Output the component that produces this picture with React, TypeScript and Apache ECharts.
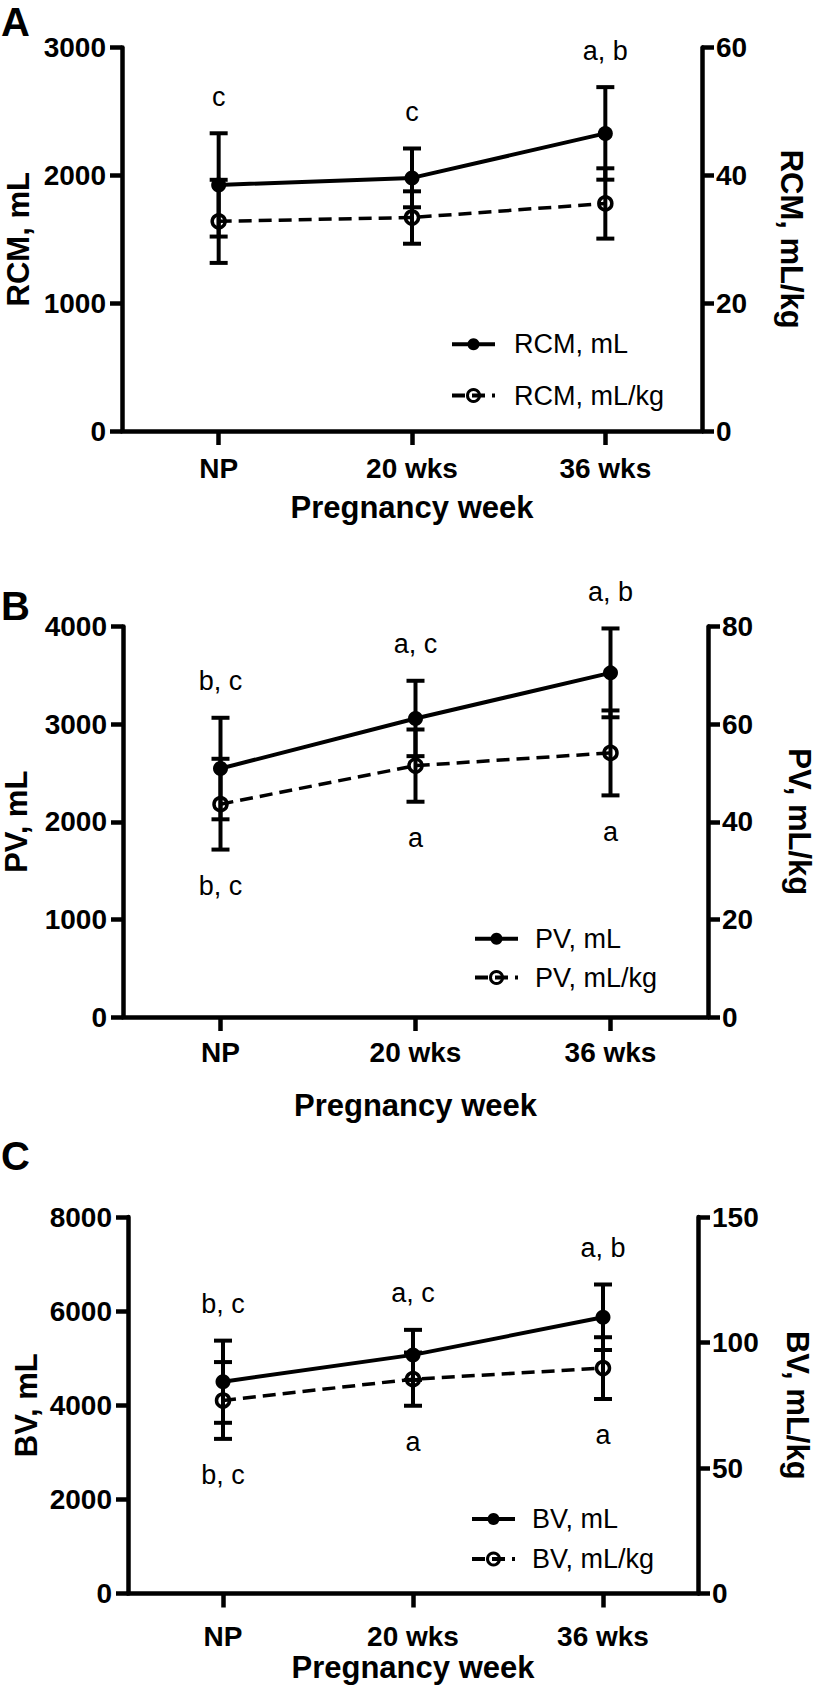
import React, { useEffect, useRef } from 'react';
import * as echarts from 'echarts';

// ---------- DATA ----------
const categories = ['NP', '20 wks', '36 wks'];

// Panel A – red cell mass
const rcmMl = [1925, 1980, 2328];
const rcmMlSd = [404, 230, 362];
const rcmKg = [32.8, 33.4, 35.6];
const rcmKgSd = [6.5, 4.1, 5.5];
const rcmAbove = ['c', 'c', 'a, b'];
const rcmBelow = ['', '', ''];

// Panel B – plasma volume
const pvMl = [2545, 3058, 3525];
const pvMlSd = [520, 386, 455];
const pvKg = [43.6, 51.5, 54.1];
const pvKgSd = [9.3, 7.4, 8.7];
const pvAbove = ['b, c', 'a, c', 'a, b'];
const pvBelow = ['b, c', 'a', 'a'];

// Panel C – blood volume
const bvMl = [4500, 5070, 5870];
const bvMlSd = [873, 532, 696];
const bvKg = [76.9, 85.4, 89.8];
const bvKgSd = [15.3, 10.6, 12.3];
const bvAbove = ['b, c', 'a, c', 'a, b'];
const bvBelow = ['b, c', 'a', 'a'];

// axis ticks
const leftMax = [3000, 4000, 8000];
const leftStep = [1000, 1000, 2000];
const rightMax = [60, 80, 150];
const rightStep = [20, 20, 50];

const panelLetters = ['A', 'B', 'C'];
const mlNames = ['RCM, mL', 'PV, mL', 'BV, mL'];
const kgNames = ['RCM, mL/kg', 'PV, mL/kg', 'BV, mL/kg'];
const xTitle = 'Pregnancy week';

const panels = [
  { ml: rcmMl, mlSd: rcmMlSd, kg: rcmKg, kgSd: rcmKgSd, above: rcmAbove, below: rcmBelow },
  { ml: pvMl, mlSd: pvMlSd, kg: pvKg, kgSd: pvKgSd, above: pvAbove, below: pvBelow },
  { ml: bvMl, mlSd: bvMlSd, kg: bvKg, kgSd: bvKgSd, above: bvAbove, below: bvBelow },
];

// ---------- LAYOUT ----------
const W = 815;
const H = 1686;
const FONT = '"Liberation Sans", Arial, Helvetica, sans-serif';

const layout = [
  { left: 122, top: 47.5, width: 580, height: 383.5, lGap: 88, rGap: 73.5, xMargin: 23, xGap: 60.5, legLeft: 450, legTop: 330.8, legGap: 24.2, legPad: 14, letterY: 2 },
  { left: 123, top: 626.5, width: 585, height: 390.5, lGap: 91, rGap: 75.5, xMargin: 21, xGap: 72.5, legLeft: 473, legTop: 925.2, legGap: 11.8, legPad: 12, letterY: 586 },
  { left: 128, top: 1217, width: 570, height: 376.5, lGap: 86.5, rGap: 83.5, xMargin: 29, xGap: 58, legLeft: 470, legTop: 1505.5, legGap: 13, legPad: 12, letterY: 1136 },
];

const AXIS_W = 4.5;

function errorBarRender(params: any, api: any) {
  const x = api.value(0);
  const lo = api.coord([x, api.value(1)]);
  const hi = api.coord([x, api.value(2)]);
  const half = 9;
  const style = { stroke: '#000', lineWidth: 4, fill: 'none' };
  return {
    type: 'group',
    children: [
      { type: 'line', shape: { x1: hi[0], y1: hi[1], x2: lo[0], y2: lo[1] }, style },
      { type: 'line', shape: { x1: hi[0] - half, y1: hi[1], x2: hi[0] + half, y2: hi[1] }, style },
      { type: 'line', shape: { x1: lo[0] - half, y1: lo[1], x2: lo[0] + half, y2: lo[1] }, style },
    ],
  };
}

function letterRender(texts: string[]) {
  return (params: any, api: any) => {
    const p = api.coord([api.value(0), api.value(1)]);
    const dir = api.value(2);
    return {
      type: 'text',
      x: p[0],
      y: p[1] - dir * 23,
      style: {
        text: texts[params.dataIndex],
        fontSize: 27,
        fontFamily: FONT,
        fill: '#000',
        align: 'center',
        verticalAlign: dir > 0 ? 'bottom' : 'top',
      },
    };
  };
}

const plain = (v: number) => String(v);

function buildOption() {
  const grid: any[] = [];
  const xAxis: any[] = [];
  const yAxis: any[] = [];
  const series: any[] = [];
  const legend: any[] = [];
  const graphic: any[] = [];

  const tickLabel = { color: '#000', fontFamily: FONT, fontWeight: 'bold', fontSize: 28 };
  const nameStyle = { color: '#000', fontFamily: FONT, fontWeight: 'bold', fontSize: 31, lineHeight: 31 };

  panels.forEach((p, k) => {
    const L = layout[k];
    grid.push({ left: L.left, top: L.top, width: L.width, height: L.height, containLabel: false, outerBoundsMode: 'none' });

    xAxis.push({
      type: 'category',
      gridIndex: k,
      data: categories,
      boundaryGap: true,
      axisLine: { show: true, lineStyle: { color: '#000', width: AXIS_W } },
      axisTick: { show: true, alignWithLabel: true, length: 14, lineStyle: { color: '#000', width: AXIS_W } },
      axisLabel: { ...tickLabel, margin: L.xMargin, lineHeight: 28 },
      splitLine: { show: false },
      name: xTitle,
      nameLocation: 'middle',
      nameGap: L.xGap,
      nameTextStyle: nameStyle,
      nameMoveOverlap: false,
    });

    yAxis.push({
      type: 'value',
      gridIndex: k,
      position: 'left',
      min: 0,
      max: leftMax[k],
      interval: leftStep[k],
      axisLine: { show: true, lineStyle: { color: '#000', width: AXIS_W } },
      axisTick: { show: true, length: 12, lineStyle: { color: '#000', width: AXIS_W } },
      axisLabel: { ...tickLabel, margin: 16, formatter: plain },
      splitLine: { show: false },
      name: mlNames[k],
      nameLocation: 'middle',
      nameRotate: 90,
      nameGap: L.lGap,
      nameTextStyle: nameStyle,
      nameMoveOverlap: false,
    });
    yAxis.push({
      type: 'value',
      gridIndex: k,
      position: 'right',
      min: 0,
      max: rightMax[k],
      interval: rightStep[k],
      axisLine: { show: true, lineStyle: { color: '#000', width: AXIS_W } },
      axisTick: { show: true, length: 12, lineStyle: { color: '#000', width: AXIS_W } },
      axisLabel: { ...tickLabel, margin: 14, formatter: plain },
      splitLine: { show: false },
      name: kgNames[k],
      nameLocation: 'middle',
      nameRotate: -90,
      nameGap: L.rGap,
      nameTextStyle: nameStyle,
      nameMoveOverlap: false,
    });

    const yl = 2 * k;
    const yr = 2 * k + 1;

    // error bars
    series.push({
      type: 'custom',
      name: mlNames[k] + ' SD',
      xAxisIndex: k,
      yAxisIndex: yl,
      z: 1,
      renderItem: errorBarRender,
      encode: { x: 0, y: [1, 2] },
      data: p.ml.map((v, i) => [i, v - p.mlSd[i], v + p.mlSd[i]]),
      silent: true,
    });
    series.push({
      type: 'custom',
      name: kgNames[k] + ' SD',
      xAxisIndex: k,
      yAxisIndex: yr,
      z: 1,
      renderItem: errorBarRender,
      encode: { x: 0, y: [1, 2] },
      data: p.kg.map((v, i) => [i, v - p.kgSd[i], v + p.kgSd[i]]),
      silent: true,
    });

    // lines
    series.push({
      type: 'line',
      name: mlNames[k],
      xAxisIndex: k,
      yAxisIndex: yl,
      z: 3,
      data: p.ml,
      symbol: 'circle',
      symbolSize: 15,
      itemStyle: { color: '#000' },
      lineStyle: { color: '#000', width: 4, type: 'solid' },
      silent: true,
    });
    series.push({
      type: 'line',
      name: kgNames[k],
      xAxisIndex: k,
      yAxisIndex: yr,
      z: 3,
      data: p.kg,
      symbol: 'circle',
      symbolSize: 13,
      itemStyle: { color: 'transparent', borderColor: '#000', borderWidth: 3.5 },
      lineStyle: { color: '#000', width: 3.5, type: [13, 7] },
      silent: true,
    });

    // significance letters
    const aboveTexts: string[] = [];
    const aboveData: number[][] = [];
    p.above.forEach((t, i) => {
      if (t) {
        aboveTexts.push(t);
        aboveData.push([i, p.ml[i] + p.mlSd[i], 1]);
      }
    });
    const belowTexts: string[] = [];
    const belowData: number[][] = [];
    p.below.forEach((t, i) => {
      if (t) {
        belowTexts.push(t);
        belowData.push([i, p.kg[i] - p.kgSd[i], -1]);
      }
    });
    if (aboveData.length) {
      series.push({
        type: 'custom',
        name: mlNames[k] + ' letters',
        xAxisIndex: k,
        yAxisIndex: yl,
        z: 4,
        renderItem: letterRender(aboveTexts),
        encode: { x: 0, y: 1 },
        data: aboveData,
        silent: true,
      });
    }
    if (belowData.length) {
      series.push({
        type: 'custom',
        name: kgNames[k] + ' letters',
        xAxisIndex: k,
        yAxisIndex: yr,
        z: 4,
        renderItem: letterRender(belowTexts),
        encode: { x: 0, y: 1 },
        data: belowData,
        silent: true,
      });
    }

    legend.push({
      show: true,
      data: [mlNames[k], kgNames[k]],
      orient: 'vertical',
      left: L.legLeft,
      top: L.legTop,
      padding: 0,
      itemGap: L.legGap,
      itemWidth: 43,
      itemHeight: 15,
      selectedMode: false,
      itemStyle: { borderWidth: 3 },
      lineStyle: { width: 4 },
      textStyle: {
        color: '#000',
        fontFamily: FONT,
        fontSize: 27,
        lineHeight: 27,
        padding: [0, 0, 0, L.legPad],
      },
    });

    graphic.push({
      type: 'text',
      left: 1,
      top: L.letterY,
      style: {
        text: panelLetters[k],
        fontSize: 40,
        fontWeight: 'bold',
        fontFamily: FONT,
        fill: '#000',
      },
    });
  });

  return {
    animation: false,
    backgroundColor: '#fff',
    textStyle: { fontFamily: FONT },
    grid,
    xAxis,
    yAxis,
    series,
    legend,
    graphic,
    tooltip: { show: false },
  };
}

export default function App() {
  const ref = useRef<HTMLDivElement>(null);
  useEffect(() => {
    if (!ref.current) return;
    const chart = echarts.init(ref.current, undefined, { renderer: 'svg', width: W, height: H });
    chart.setOption(buildOption() as any);
    return () => {
      chart.dispose();
    };
  }, []);
  return (
    <div
      ref={ref}
      style={{ position: 'absolute', left: 0, top: 0, width: W, height: H, background: '#fff' }}
    />
  );
}
